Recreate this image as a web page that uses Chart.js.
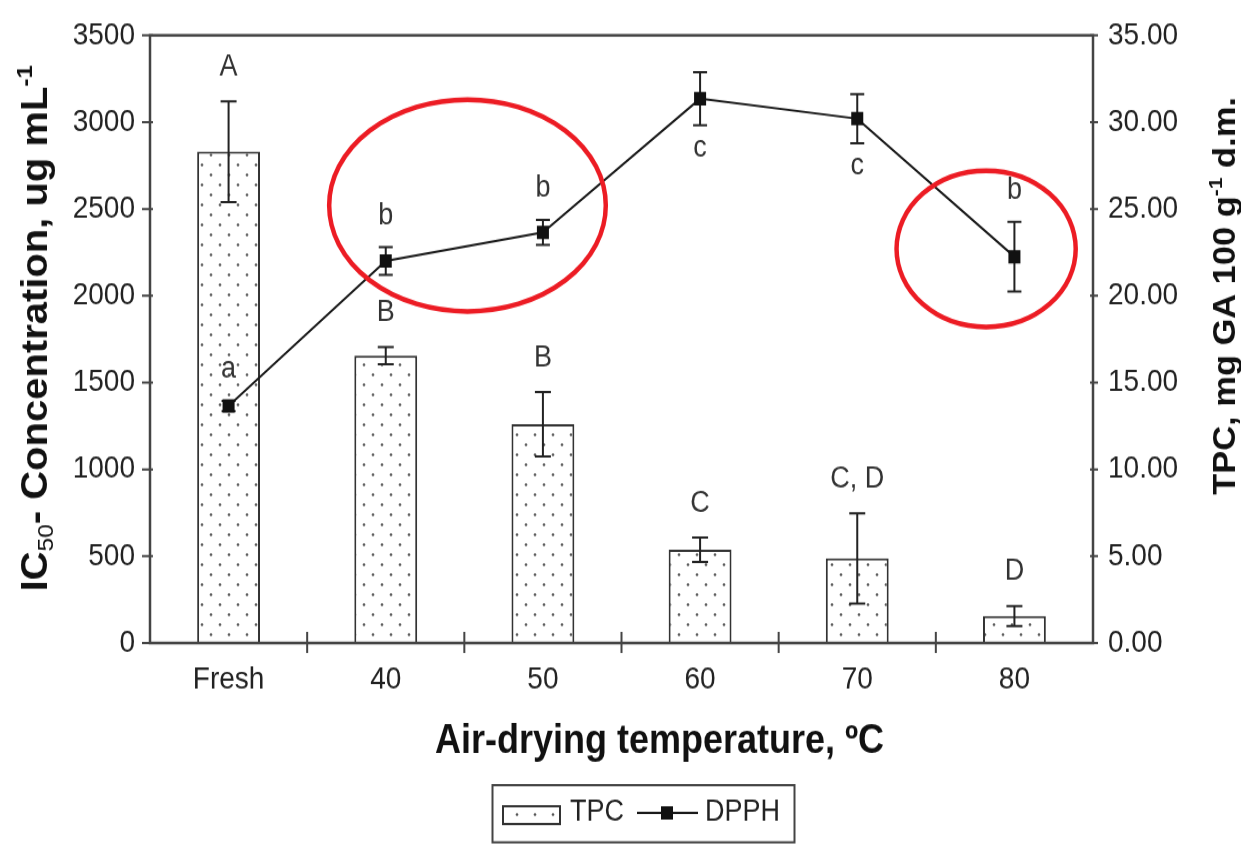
<!DOCTYPE html>
<html>
<head>
<meta charset="utf-8">
<script src="https://cdn.jsdelivr.net/npm/chart.js@4.4.0/dist/chart.umd.min.js"></script>
<style>
  html { overflow: hidden; }
  body { margin: 0; padding: 0; background: #fff; height: 844px; }
  /* the source figure is slightly stretched vertically */
  #wrap { width: 1241px; height: 760px; transform: scaleY(1.1105); transform-origin: 0 0; }
</style>
</head>
<body>
<div id="wrap"><canvas id="chart" width="1241" height="760"></canvas></div>
<script>
const categories = ['Fresh', '40', '50', '60', '70', '80'];

// TPC, mg GA 100 g-1 d.m. (bars, right axis)
const tpcValues = [28.3, 16.55, 12.6, 5.37, 4.87, 1.55];
const tpcErrors = [2.9, 0.5, 1.85, 0.7, 2.6, 0.57];
const tpcLetters = ['A', 'B', 'B', 'C', 'C, D', 'D'];

// DPPH IC50, ug mL-1 (line, left axis)
const dpphValues = [1365, 2200, 2365, 3135, 3020, 2225];
const dpphErrors = [30, 80, 72, 152, 142, 200];
const dpphLetters = ['a', 'b', 'b', 'c', 'c', 'b'];
const dpphLetterSide = ['above', 'above', 'above', 'below', 'below', 'above'];

const leftTicks = [0, 500, 1000, 1500, 2000, 2500, 3000, 3500];
const rightTicks = [0, 5, 10, 15, 20, 25, 30, 35];

// red rings drawn over the figure (category position, IC50 value)
const ringCenterX = [1.52, 4.82];
const ringCenterY = [2520, 2270];
const ringRadiusX = [0.88, 0.57];
const ringRadiusY = [610, 450];

const FONT = "'Liberation Sans', Arial, sans-serif";
const AXIS = '#444';

function makeDots() {
    const c = document.createElement('canvas');
    c.width = 18; c.height = 18;
    const g = c.getContext('2d');
    g.fillStyle = '#fff';
    g.fillRect(0, 0, 18, 18);
    g.fillStyle = '#555';
    [[4, 4.5], [13, 13.5]].forEach(([px, py]) => {
        g.beginPath();
        g.arc(px, py, 1.3, 0, Math.PI * 2);
        g.fill();
    });
    return g.createPattern(c, 'repeat');
}
const dots = makeDots();

function errorBar(ctx, x, yTop, yBot, half) {
    ctx.beginPath();
    ctx.moveTo(x, yTop); ctx.lineTo(x, yBot);
    ctx.moveTo(x - half, yTop); ctx.lineTo(x + half, yTop);
    ctx.moveTo(x - half, yBot); ctx.lineTo(x + half, yBot);
    ctx.stroke();
}

// draws text runs (for sub/superscripts) centred on 0 along a baseline at 0
function richText(ctx, parts) {
    let w = 0;
    parts.forEach(p => { ctx.font = p.f; p.w = ctx.measureText(p.t).width; w += p.w; });
    let x = -w / 2;
    ctx.textAlign = 'left';
    ctx.textBaseline = 'alphabetic';
    parts.forEach(p => { ctx.font = p.f; ctx.fillText(p.t, x, p.dy || 0); x += p.w; });
}

const decor = {
    id: 'decor',
    afterDatasetDraw(chart, args) {
        if (args.index !== 1) return;
        const { ctx, scales: { x, y, y1 } } = chart;
        ctx.save();
        ctx.strokeStyle = '#222';
        ctx.lineWidth = 2;
        tpcValues.forEach((v, i) => {
            errorBar(ctx, x.getPixelForValue(i), y1.getPixelForValue(v + tpcErrors[i]), y1.getPixelForValue(v - tpcErrors[i]), 8);
        });
        dpphValues.forEach((v, i) => {
            errorBar(ctx, x.getPixelForValue(i), y.getPixelForValue(v + dpphErrors[i]), y.getPixelForValue(v - dpphErrors[i]), 7);
        });
        ctx.restore();
    },
    afterDatasetsDraw(chart) {
        const { ctx, chartArea: a, scales: { x, y, y1 } } = chart;
        ctx.save();

        // frame and tick marks
        ctx.strokeStyle = AXIS;
        ctx.lineWidth = 2.5;
        ctx.strokeRect(a.left, a.top, a.right - a.left, a.bottom - a.top);
        ctx.lineWidth = 2;
        ctx.beginPath();
        for (let i = 1; i < categories.length; i++) {
            const px = (x.getPixelForValue(i - 1) + x.getPixelForValue(i)) / 2;
            ctx.moveTo(px, a.bottom - 10); ctx.lineTo(px, a.bottom + 9);
        }
        leftTicks.forEach(v => {
            const py = y.getPixelForValue(v);
            ctx.moveTo(a.left - 8, py); ctx.lineTo(a.left + 3, py);
        });
        rightTicks.forEach(v => {
            const py = y1.getPixelForValue(v);
            ctx.moveTo(a.right - 3, py); ctx.lineTo(a.right + 5, py);
        });
        ctx.stroke();

        // significance letters
        ctx.fillStyle = '#333';
        ctx.font = '27px ' + FONT;
        ctx.textAlign = 'center';
        ctx.textBaseline = 'middle';
        tpcLetters.forEach((t, i) => {
            ctx.fillText(t, x.getPixelForValue(i), y1.getPixelForValue(tpcValues[i] + tpcErrors[i]) - 31);
        });
        dpphLetters.forEach((t, i) => {
            const v = dpphValues[i], e = dpphErrors[i];
            const py = dpphLetterSide[i] === 'above' ? y.getPixelForValue(v + e) - 28 : y.getPixelForValue(v - e) + 21;
            ctx.fillText(t, x.getPixelForValue(i), py);
        });

        // red rings
        const catW = x.getPixelForValue(1) - x.getPixelForValue(0);
        ctx.strokeStyle = '#ec1c24';
        ctx.lineWidth = 4.5;
        ringCenterX.forEach((cx, i) => {
            ctx.beginPath();
            ctx.ellipse(x.getPixelForValue(cx), y.getPixelForValue(ringCenterY[i]),
                ringRadiusX[i] * catW, y.getPixelForValue(0) - y.getPixelForValue(ringRadiusY[i]), 0, 0, Math.PI * 2);
            ctx.stroke();
        });

        // axis titles
        ctx.fillStyle = '#111';
        ctx.save();
        ctx.translate(47, (a.top + a.bottom) / 2 - 10);
        ctx.rotate(-Math.PI / 2);
        richText(ctx, [
            { t: 'IC', f: 'bold 36px ' + FONT },
            { t: '50', f: '22px ' + FONT, dy: 6 },
            { t: '- Concentration, ug mL', f: 'bold 36px ' + FONT },
            { t: '-1', f: 'bold 22px ' + FONT, dy: -15 }
        ]);
        ctx.restore();

        ctx.save();
        ctx.translate(1235, (a.top + a.bottom) / 2 - 39);
        ctx.rotate(-Math.PI / 2);
        richText(ctx, [
            { t: 'TPC, mg GA 100 g', f: 'bold 31px ' + FONT },
            { t: '-1', f: 'bold 19px ' + FONT, dy: -13 },
            { t: ' d.m.', f: 'bold 31px ' + FONT }
        ]);
        ctx.restore();

        ctx.save();
        ctx.translate((a.left + a.right) / 2 + 38, 678);
        richText(ctx, [{ t: 'Air-drying temperature, ºC', f: 'bold 36px ' + FONT }]);
        ctx.restore();

        // legend
        ctx.strokeStyle = AXIS;
        ctx.lineWidth = 2;
        ctx.strokeRect(492.5, 707, 302, 51.5);
        ctx.fillStyle = dots;
        ctx.fillRect(503, 726, 57, 16);
        ctx.strokeStyle = '#333';
        ctx.strokeRect(503, 726, 57, 16);
        ctx.fillStyle = '#222';
        ctx.font = '27px ' + FONT;
        ctx.textAlign = 'left';
        ctx.textBaseline = 'middle';
        ctx.fillText('TPC', 570, 732);
        ctx.beginPath();
        ctx.moveTo(637, 732); ctx.lineTo(698, 732);
        ctx.strokeStyle = '#1a1a1a';
        ctx.stroke();
        ctx.fillStyle = '#111';
        ctx.fillRect(661, 726, 12, 12);
        ctx.fillStyle = '#222';
        ctx.fillText('DPPH', 705, 732);

        ctx.restore();
    }
};

const tickFont = { family: FONT, size: 28 };

new Chart(document.getElementById('chart'), {
    type: 'bar',
    data: {
        labels: categories,
        datasets: [
            {
                type: 'line',
                label: 'DPPH',
                data: dpphValues,
                yAxisID: 'y',
                order: 0,
                borderColor: '#1a1a1a',
                borderWidth: 2,
                pointStyle: 'rect',
                pointRadius: 8.5,
                pointBackgroundColor: '#111',
                pointBorderColor: '#111',
                pointBorderWidth: 0,
                tension: 0
            },
            {
                type: 'bar',
                label: 'TPC',
                data: tpcValues,
                yAxisID: 'y1',
                order: 1,
                backgroundColor: dots,
                borderColor: '#333',
                borderWidth: 2,
                barPercentage: 0.4,
                categoryPercentage: 1
            }
        ]
    },
    options: {
        responsive: false,
        animation: false,
        layout: { padding: { top: 23, left: 0, right: 0, bottom: 0 } },
        plugins: { legend: { display: false }, tooltip: { enabled: false } },
        scales: {
            x: {
                offset: true,
                grid: { display: false, drawTicks: false },
                border: { display: false },
                ticks: { color: '#222', font: tickFont, padding: 16, maxRotation: 0, autoSkip: false },
                afterFit(s) { s.height = 181; }
            },
            y: {
                position: 'left',
                min: 0,
                max: 3500,
                afterBuildTicks(s) { s.ticks = leftTicks.map(v => ({ value: v })); },
                grid: { display: false, drawTicks: false },
                border: { display: false },
                ticks: { color: '#222', font: tickFont, padding: 15, callback: v => String(v) },
                afterFit(s) { s.width = 150; }
            },
            y1: {
                position: 'right',
                min: 0,
                max: 35,
                afterBuildTicks(s) { s.ticks = rightTicks.map(v => ({ value: v })); },
                grid: { display: false, drawTicks: false },
                border: { display: false },
                ticks: { color: '#222', font: tickFont, padding: 15, callback: v => v.toFixed(2) },
                afterFit(s) { s.width = 148; }
            }
        }
    },
    plugins: [decor]
});
</script>
</body>
</html>
